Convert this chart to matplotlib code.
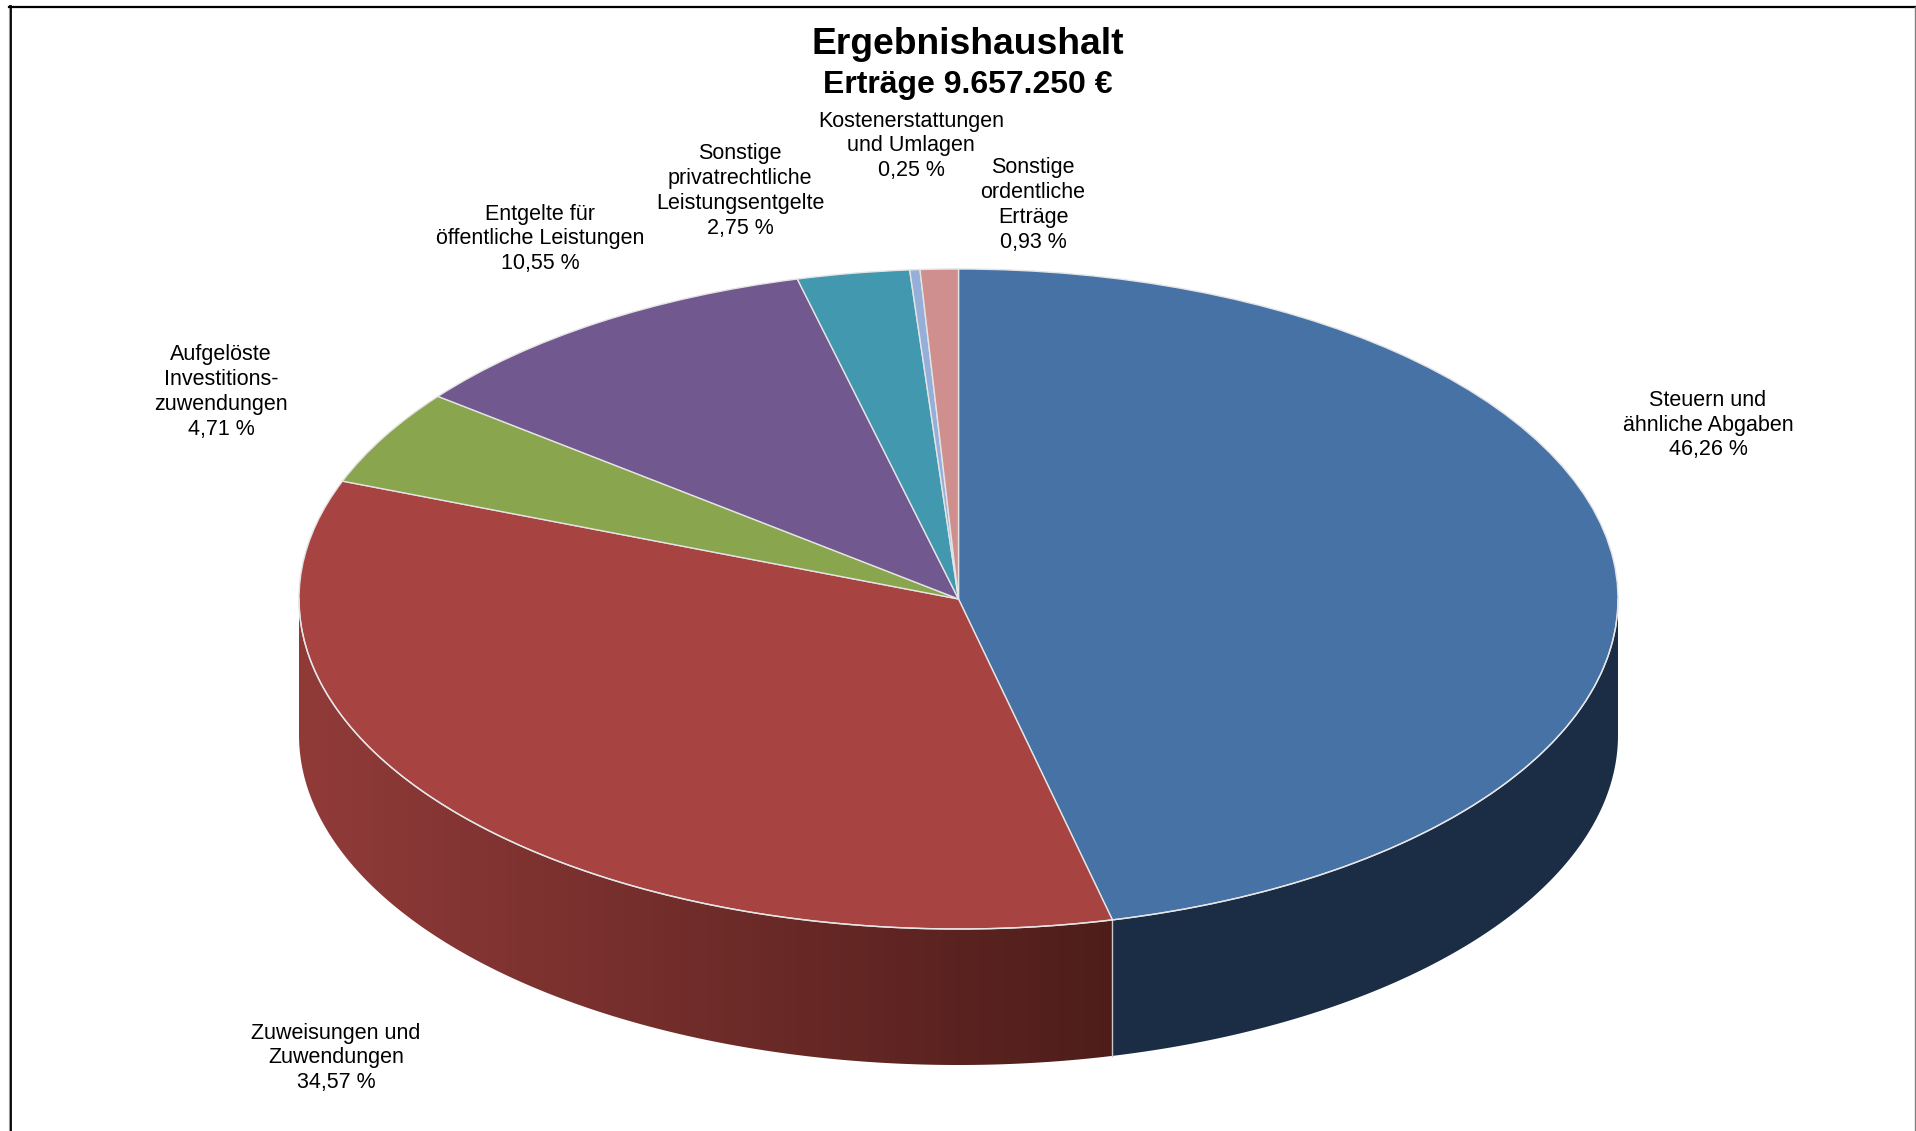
import matplotlib
matplotlib.use('Agg')
import matplotlib.pyplot as plt
from matplotlib.lines import Line2D
from matplotlib.patches import Polygon
import numpy as np

plt.rcParams['font.family'] = ['Liberation Sans', 'DejaVu Sans']

W, H = 1916, 1131
names = ['Steuern und\nähnliche Abgaben', 'Zuweisungen und\nZuwendungen',
         'Aufgelöste\nInvestitions-\nzuwendungen', 'Entgelte für\nöffentliche Leistungen',
         'Sonstige\nprivatrechtliche\nLeistungsentgelte', 'Kostenerstattungen\nund Umlagen',
         'Sonstige\nordentliche\nErträge']
values = [46.26, 34.57, 4.71, 10.55, 2.75, 0.25, 0.93]
colors = ['#4672A6', '#A74442', '#89A54E', '#71588F', '#4198AF', '#95AFD8', '#CF8F8E']
# label centres in pixels of the full picture
label_pos = [(1708, 425), (336, 1058), (221, 392), (540, 239), (740, 191), (911, 146), (1033, 205)]

cx, cy, rx, ry = 958.5, 599, 659.5, 330
depth = 136 / ry

fig = plt.figure(figsize=(W / 100, H / 100), dpi=100, facecolor='white')
ax = fig.add_axes([0, 0, 1, 1])

wedges, _ = ax.pie(values, colors=colors, startangle=90, counterclock=False, radius=1,
                   wedgeprops=dict(edgecolor='#E4E4E4', linewidth=1.0, zorder=3))

# side wall, only the front half of the cake can be seen
bounds = np.cumsum([0] + values) / sum(values) * 360
split = bounds[1]

def wall_shape(a0, a1):
    t = np.radians(np.linspace(a0, a1, 300))
    x, y = np.sin(t), np.cos(t)
    return np.c_[np.r_[x, x[::-1]], np.r_[y, y[::-1] - depth]]

blue_wall = Polygon(wall_shape(90, split), closed=True, fc='#1B2D45', ec='none', zorder=1)
ax.add_patch(blue_wall)

sx, sy = np.sin(np.radians(split)), np.cos(np.radians(split))
f = np.linspace(0, 1, 400)[:, None]
red_left, red_right = np.array([145, 59, 57]), np.array([78, 29, 26])
grad = ((red_left * (1 - f) + red_right * f) / 255)[None, :, :]
red_wall = Polygon(wall_shape(split, 270), closed=True, fc='none', ec='none', transform=ax.transData)
ax.add_patch(red_wall)
img = ax.imshow(grad, extent=(-1, sx, sy - depth - 1, 0.2), aspect='auto', zorder=1, interpolation='bilinear')
img.set_clip_path(red_wall)

ax.set_aspect('auto')
ax.set_xlim(-cx / rx, (W - cx) / rx)
ax.set_ylim((cy - H) / ry, cy / ry)
ax.axis('off')

# light rim on the front edge and on the slice border
t = np.radians(np.linspace(90, 270, 300))
ax.plot(np.sin(t), np.cos(t), color='#E6E6E6', lw=1.0, zorder=4)
ax.plot([sx, sx], [sy, sy - depth], color='#C8C8C8', lw=1.0, zorder=2)

for name, v, (px, py) in zip(names, values, label_pos):
    txt = name + '\n' + f'{v:.2f} %'.replace('.', ',')
    fig.text(px / W, 1 - py / H, txt, ha='center', va='center', fontsize=15.5,
             color='black', linespacing=1.245)

fig.text(968 / W, 1 - 45 / H, 'Ergebnishaushalt', ha='center', va='center', fontsize=26.8,
         fontweight='bold')
fig.text(968 / W, 1 - 85 / H, 'Erträge 9.657.250 €', ha='center', va='center', fontsize=23,
         fontweight='bold')

# page frame, open at the bottom
fig.add_artist(Line2D([10 / W, 10 / W], [0, 1 - 6 / H], color='black', lw=2.0))
fig.add_artist(Line2D([8.5 / W, 8.5 / W], [0, 1 - 6 / H], color='#999999', lw=0.8))
fig.add_artist(Line2D([9 / W, 1], [1 - 6.5 / H, 1 - 6.5 / H], color='black', lw=1.6))
fig.add_artist(Line2D([1915.3 / W, 1915.3 / W], [0, 1 - 7 / H], color='#808080', lw=1.0))

fig.savefig('out.png', dpi=100)
